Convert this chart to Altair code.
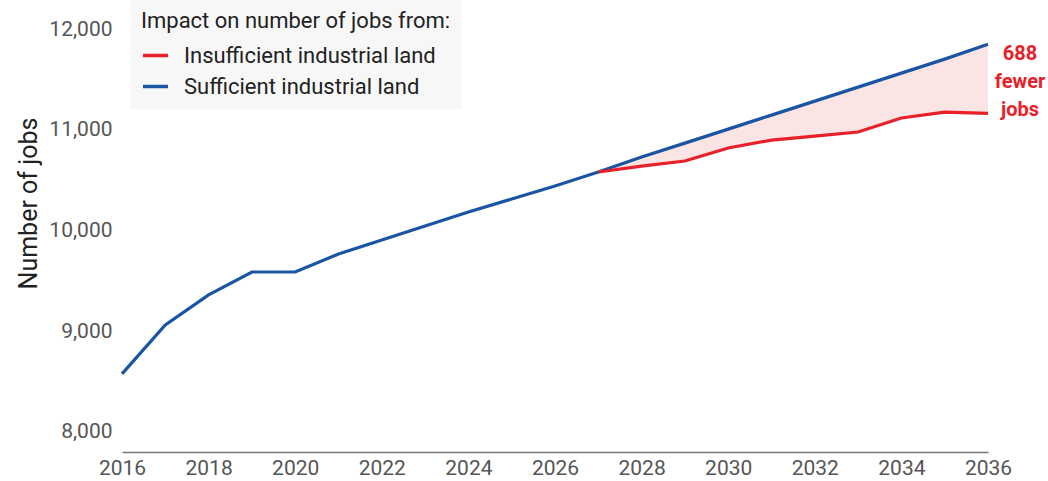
import altair as alt
import pandas as pd

years = list(range(2016, 2037))
sufficient = [8576, 9062, 9360, 9588, 9588, 9767, 9906, 10045, 10184, 10313, 10442,
              10581, 10730, 10868, 11007, 11146, 11285, 11424, 11563, 11702, 11851]
insuff_years = list(range(2027, 2037))
insufficient = [10581, 10640, 10690, 10819, 10898, 10938, 10978, 11117, 11176, 11163]
series_names = ["Insufficient industrial land", "Sufficient industrial land"]
series_colors = ["#e8202a", "#1a55a3"]
x_ticks = list(range(2016, 2037, 2))
y_ticks = [8000, 9000, 10000, 11000, 12000]
annotation_lines = ["688", "fewer", "jobs"]

FONT = "Roboto"

rows = []
for y, v in zip(years, sufficient):
    rows.append({"year": y, "jobs": v, "series": series_names[1]})
for y, v in zip(insuff_years, insufficient):
    rows.append({"year": y, "jobs": v, "series": series_names[0]})
df = pd.DataFrame(rows)

suff_map = dict(zip(years, sufficient))
band = pd.DataFrame({
    "year": insuff_years,
    "low": insufficient,
    "high": [suff_map[y] for y in insuff_years],
})

ann = pd.DataFrame({
    "year": [years[-1]],
    "mid": [(sufficient[-1] + insufficient[-1]) / 2],
    "label": [annotation_lines],
})

xscale = alt.Scale(domain=[2016, 2036], nice=False, zero=False)
yscale = alt.Scale(domain=[7800, 12200], nice=False, zero=False)

area = alt.Chart(band).mark_area(color="#fbe4e4", opacity=1).encode(
    x=alt.X("year:Q", scale=xscale),
    y=alt.Y("low:Q", scale=yscale),
    y2="high:Q",
)

lines = alt.Chart(df).mark_line(strokeWidth=3.2, strokeCap="butt").encode(
    x=alt.X("year:Q", scale=xscale,
            axis=alt.Axis(values=x_ticks, format="d", title=None, grid=False,
                          ticks=False, domain=True, domainColor="#777777",
                          domainWidth=1.5, labelFont=FONT, labelFontSize=21,
                          labelColor="#555555", labelPadding=5,
                          labelFlush=False)),
    y=alt.Y("jobs:Q", scale=yscale,
            axis=alt.Axis(values=y_ticks, format=",d", title="Number of jobs",
                          grid=False, ticks=False, domain=False,
                          labelFont=FONT, labelFontSize=21, labelColor="#555555",
                          labelPadding=10, titleFont=FONT, titleFontSize=25,
                          titleFontWeight="normal", titleColor="#222222",
                          titleX=-94, titleY=194, titleAlign="center",
                          titleBaseline="middle", titleAngle=270)),
    color=alt.Color("series:N",
                    scale=alt.Scale(domain=series_names, range=series_colors),
                    legend=alt.Legend(title="Impact on number of jobs from:",
                                      orient="none", legendX=8, legendY=-9,
                                      fillColor="#f7f7f7", padding=11,
                                      symbolType="stroke", symbolStrokeWidth=3.5,
                                      symbolSize=625, titleFont=FONT,
                                      titleFontSize=22, titleFontWeight="normal",
                                      titleColor="#222222", labelFont=FONT,
                                      labelFontSize=22, labelColor="#222222",
                                      rowPadding=5, titlePadding=8,
                                      labelOffset=14, labelLimit=400,
                                      titleLimit=400)),
    order=alt.Order("series:N", sort="descending"),
)

text = alt.Chart(ann).mark_text(
    font=FONT, fontSize=20, fontWeight="bold", color="#e8202a",
    align="center", baseline="middle", dx=32, dy=-25, lineHeight=28,
).encode(
    x=alt.X("year:Q", scale=xscale),
    y=alt.Y("mid:Q", scale=yscale),
    text="label",
)

chart = alt.layer(area, lines, text).properties(
    width=866, height=443,
    padding={"left": 122, "top": 9, "right": 60, "bottom": 29},
    autosize=alt.AutoSizeParams(type="none"),
).configure_view(stroke=None)

chart.save("out.html", embed_options={"renderer": "svg", "actions": False})
